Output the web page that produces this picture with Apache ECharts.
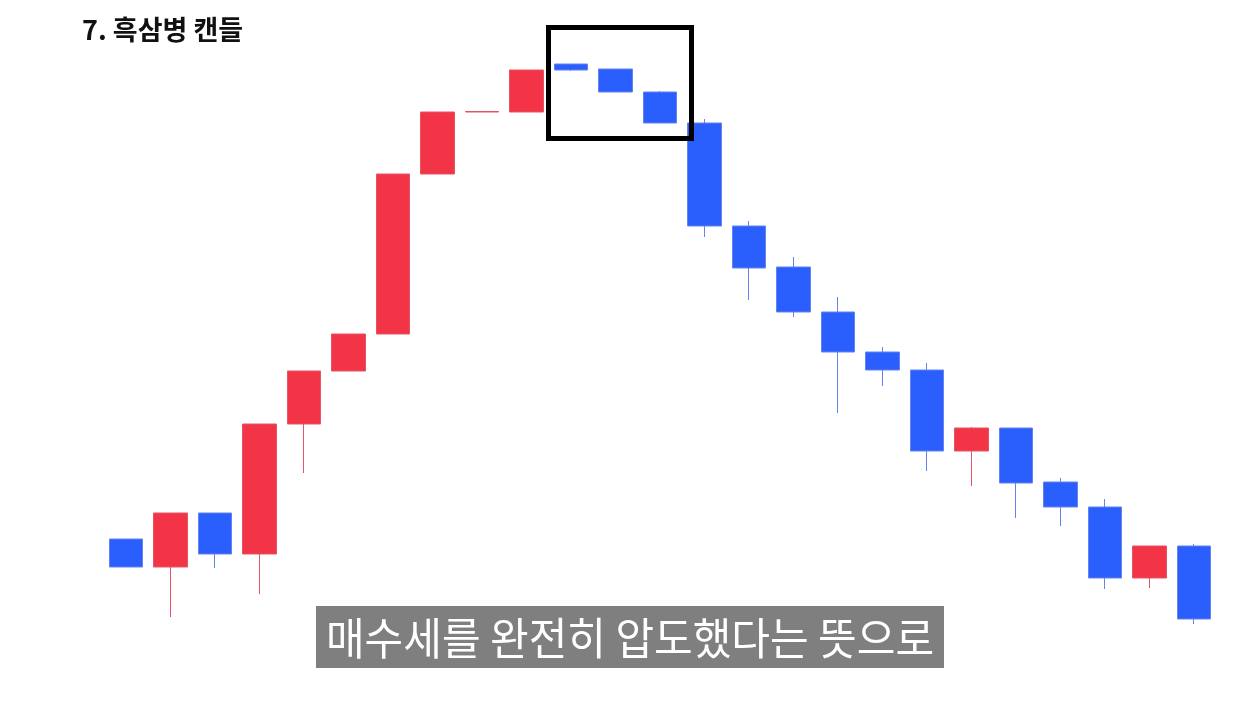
<!DOCTYPE html>
<html>
<head>
<meta charset="utf-8">
<script src="https://cdn.jsdelivr.net/npm/echarts@6/dist/echarts.min.js"></script>
<style>
html,body{margin:0;padding:0;background:#fff;}
#c{width:1260px;height:704px;}
</style>
</head>
<body>
<div id="c"></div>
<script>
const titleText = '7. 흑삼병 캔들';
const subtitleText = '매수세를 완전히 압도했다는 뜻으로';
const categories = ['1','2','3','4','5','6','7','8','9','10','11','12','13','14','15','16','17','18','19','20','21','22','23','24','25'];
const opens  = [165,137,191,150,280,333,370,530,592,592,640,635,612,581,478,437,392,352,334,253,276,222,197,126,158];
const closes = [137,191,150,280,333,370,530,592,592.5,634,634,612,581,478,436,392,352,334,253,276,221,197,126,158,85];
const lows   = [137, 87,136,110,231,333,370,530,592,592,633,612,581,467,404,387,291,318,233,218,186,178,115,116,80];
const highs  = [165,191,191,280,333,370,530,592,592.5,634,640,635,613,585,483,447,407,357,341,277,276,226,205,158,160];

const candleData = categories.map((c, i) => [opens[i], closes[i], lows[i], highs[i]]);

const chart = echarts.init(document.getElementById('c'), null, {renderer: 'canvas'});
chart.setOption({
  backgroundColor: '#ffffff',
  animation: false,
  grid: {left: 103.7, right: 43.5, top: 0, bottom: 0},
  xAxis: {
    type: 'category', data: categories, boundaryGap: true,
    axisLine: {show: false}, axisTick: {show: false}, axisLabel: {show: false}, splitLine: {show: false}
  },
  yAxis: {
    type: 'value', min: 0, max: 704,
    axisLine: {show: false}, axisTick: {show: false}, axisLabel: {show: false}, splitLine: {show: false}
  },
  series: [{
    type: 'candlestick',
    data: candleData,
    barWidth: 34,
    itemStyle: {
      color: '#f23446',
      color0: '#2b5ffd',
      borderColor: '#e35466',
      borderColor0: '#6483ee',
      borderWidth: 1
    }
  }],
  graphic: [
    {
      type: 'text', left: 82, top: 16,
      style: {text: titleText, font: 'bold 27px "Noto Sans CJK KR"', fill: '#111111'}
    },
    {
      type: 'rect', z: 100,
      shape: {x: 548.5, y: 27.5, width: 143, height: 111},
      style: {fill: 'none', stroke: '#000000', lineWidth: 5}
    },
    {
      type: 'rect', z: 100,
      shape: {x: 316, y: 606, width: 628, height: 62},
      style: {fill: '#7f7f7f'}
    },
    {
      type: 'text', z: 101,
      x: 630, y: 638, scaleX: 0.955, scaleY: 1.0,
      style: {text: subtitleText, font: '44px "Noto Sans CJK KR"', fill: '#ffffff', align: 'center', verticalAlign: 'middle'}
    }
  ]
});
</script>
</body>
</html>
